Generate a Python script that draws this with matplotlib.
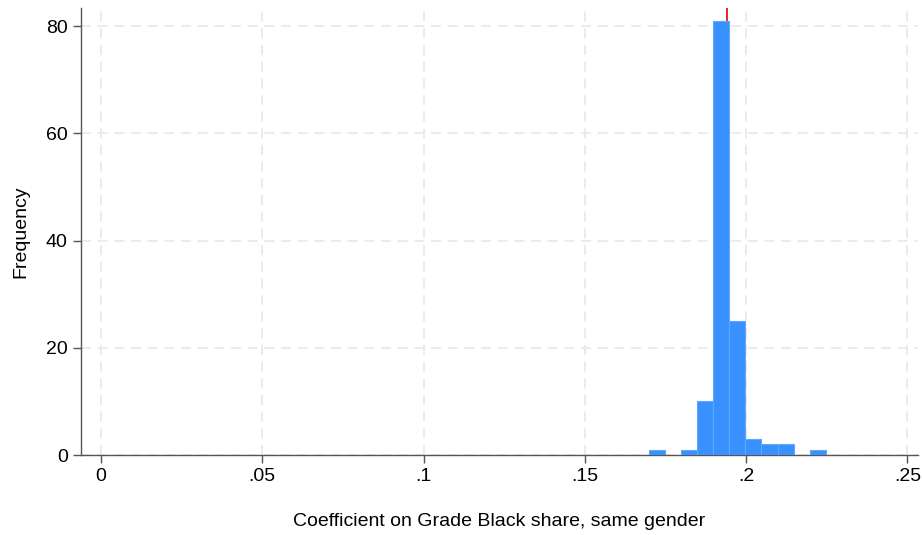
import numpy as np
import matplotlib
matplotlib.use("Agg")
import matplotlib.pyplot as plt

plt.rcParams['font.family'] = ['Liberation Sans', 'DejaVu Sans']

# Histogram data
bin_start = 0.1699
bin_width = 0.00498
counts = [1, 0, 1, 10, 81, 25, 3, 2, 2, 0, 1]
ref_line = 0.1941
x_ticks = [0, 0.05, 0.1, 0.15, 0.2, 0.25]
x_tick_labels = ["0", ".05", ".1", ".15", ".2", ".25"]
y_ticks = [0, 20, 40, 60, 80]

edges = bin_start + bin_width * np.arange(len(counts) + 1)

fig = plt.figure(figsize=(9.22, 5.35), dpi=100)
ax = fig.add_axes([81/922, 1 - 455/535, (918-81)/922, (455-8)/535])

ax.axvline(ref_line, color='#e8000b', lw=1.2, zorder=1)
for i, c in enumerate(counts):
    if c > 0:
        ax.bar(edges[i], c, width=bin_width, align='edge', color='#3891ff',
               edgecolor='#5ea8ff', linewidth=0.8, zorder=3)

ax.set_xlim(-0.0062, 0.2533)
ax.set_ylim(0, 83.4)
ax.set_xticks(x_ticks)
ax.set_xticklabels(x_tick_labels)
ax.set_yticks(y_ticks)

ax.grid(True, color='#e8e8e8', linestyle=(0, (6, 4)), linewidth=1.2, zorder=0)
ax.set_axisbelow(True)
for s in ['top', 'right']:
    ax.spines[s].set_visible(False)
for s in ['left', 'bottom']:
    ax.spines[s].set_color('#555555')
    ax.spines[s].set_linewidth(1.0)
ax.tick_params(axis='both', direction='out', length=6, width=1, color='#555555',
               labelsize=14, labelcolor='black')

ax.set_xlabel("Coefficient on Grade Black share, same gender", fontsize=14, labelpad=20)
ax.set_ylabel("Frequency", fontsize=14, labelpad=12)

fig.savefig("out.png", dpi=100)
